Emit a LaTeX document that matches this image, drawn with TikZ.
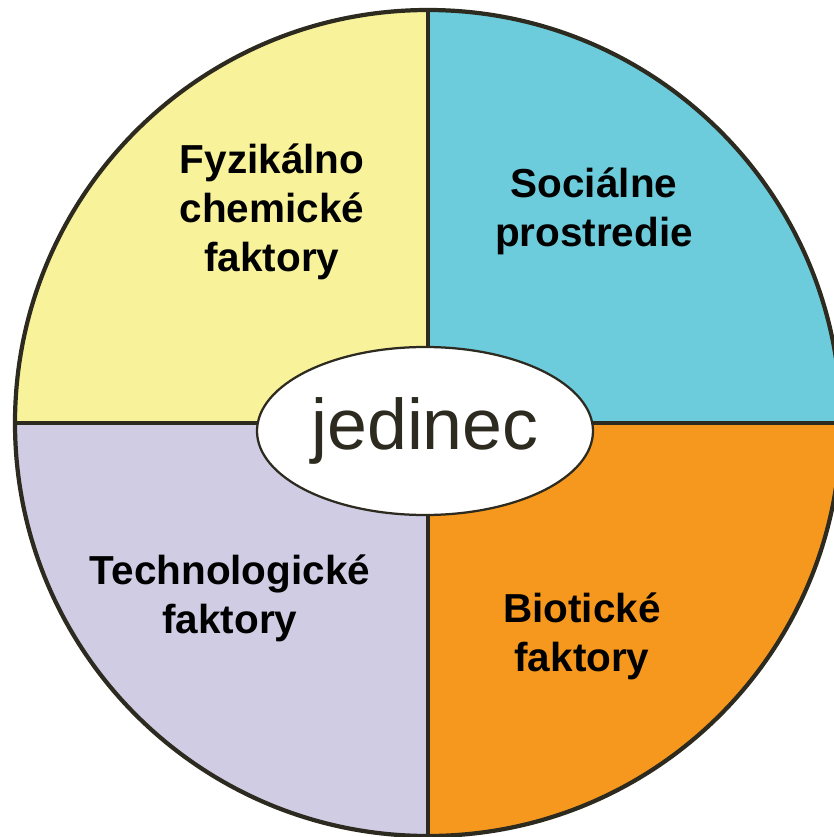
\documentclass[tikz,border=0pt]{standalone}
\usepackage{fontspec}
\setmainfont{Liberation Sans}
\usetikzlibrary{shapes.geometric}

\definecolor{outline}{HTML}{2D2A20}
\definecolor{fyzYellow}{HTML}{F8F29A}
\definecolor{socBlue}{HTML}{6CCCDC}
\definecolor{techLilac}{HTML}{CFCCE4}
\definecolor{bioOrange}{HTML}{F7981E}

\tikzstyle{quadrant}=[draw=outline,line width=3pt]
\tikzstyle{factorLabel}=[align=center,font=\fontsize{28.8}{34.9}\selectfont\bfseries,text=black]
\tikzstyle{centerNode}=[shape=ellipse,draw=outline,line width=1.6pt,fill=white,minimum width=8.4cm,minimum height=4.2cm,inner sep=0pt,text=outline,font=\fontsize{51}{60}\selectfont]

\begin{document}
\begin{tikzpicture}
        \useasboundingbox (-10.7,-10.35) rectangle (10.15,10.575);
        % four sectors
        \fill[fyzYellow] (0,0) -- (-10.325,0) arc (180:90:10.325) -- cycle;
        \fill[socBlue]   (0,0) -- (0,10.325) arc (90:0:10.325) -- cycle;
        \fill[techLilac] (0,0) -- (0,-10.325) arc (270:180:10.325) -- cycle;
        \fill[bioOrange] (0,0) -- (10.325,0) arc (0:-90:10.325) -- cycle;

        \draw[quadrant] (-10.325,0) -- (10.325,0);
        \draw[quadrant] (0,-10.325) -- (0,10.325);
        \draw[quadrant] (0,0) circle (10.325);

        \node[centerNode] (jedinec) at (-0.075,-0.2) {jedinec};

        \node[factorLabel] (fyz)  at (-3.9,5.275)  {Fyzikálno\\chemické\\faktory};
        \node[factorLabel] (soc)  at (4.15,5.29)   {Sociálne\\prostredie};
        \node[factorLabel] (tech) at (-4.95,-4.39) {Technologické\\faktory};
        \node[factorLabel] (bio)  at (3.85,-5.33)  {Biotické\\faktory};
\end{tikzpicture}
\end{document}
